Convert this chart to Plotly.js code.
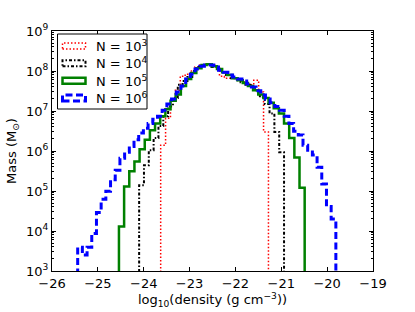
<!DOCTYPE html>
<html><head><meta charset="utf-8">
<script src="https://cdn.plot.ly/plotly-3.0.1.min.js"></script>
<style>html,body{margin:0;padding:0;background:#fff}#chart{width:415px;height:312px}</style>
</head><body><div id="chart"></div>
<script>
// Series labels and styles
const seriesLabels = ['N = 10<sup>3</sup>', 'N = 10<sup>4</sup>', 'N = 10<sup>5</sup>', 'N = 10<sup>6</sup>'];
const seriesColors = ['#ff0000', '#000000', '#008000', '#0000ff'];
const seriesDash = ['1.5px,2px', '3px,2px,1.5px,2px', 'solid', '7px,3.5px'];
const seriesWidth = [1.5, 2, 2.5, 3];

// Histogram ranges (log10 density) and per-bin masses (Msun)
const rangeN3 = [-23.63, -21.28];
const massN3 = [1.4e6, 6.6e6, 1.9e7, 3.3e7, 7.4e7, 8.3e7, 1.0e8, 1.26e8, 1.41e8, 1.48e8, 1.41e8, 1.26e8,
  7.4e7, 6.6e7, 6.6e7, 6.6e7, 5.9e7, 5.2e7, 4.5e7, 5.9e7, 3.0e7, 3.0e6];

const rangeN4 = [-24.10, -20.94];
const massN4 = [1.4e5, 4.4e5, 1.05e6, 2.1e6, 4.2e6, 7.4e6, 1.3e7, 2.1e7, 4.5e7, 5.6e7, 7.1e7, 1.0e8,
  1.26e8, 1.41e8, 1.41e8, 1.26e8, 1.12e8, 9.3e7, 7.9e7, 6.6e7, 5.9e7, 5.2e7, 4.5e7, 4.2e7, 3.3e7,
  2.2e7, 1.5e7, 8.7e6, 3.0e6, 9.3e5];

const rangeN5 = [-24.54, -20.49];
const massN5 = [1.3e4, 1.3e5, 3.1e5, 5.5e5, 1.1e6, 1.9e6, 3.3e6, 4.9e6, 7.4e6, 1.1e7, 1.8e7, 2.6e7,
  4.2e7, 6.3e7, 8.9e7, 1.17e8, 1.41e8, 1.48e8, 1.32e8, 1.12e8, 9.3e7, 7.9e7, 6.6e7, 5.9e7, 5.0e7,
  4.2e7, 3.3e7, 2.6e7, 2.1e7, 1.6e7, 1.17e7, 8.7e6, 4.9e6, 2.1e6, 6.9e5, 1.2e5];

const rangeN6 = [-25.44, -19.81];
const massN6 = [3.9e3, 2.5e3, 3.9e3, 8.7e3, 2.9e4, 6.2e4, 9.8e4, 1.9e5, 3.3e5, 6.6e5, 9.3e5, 1.3e6,
  1.9e6, 2.8e6, 3.7e6, 4.9e6, 6.2e6, 7.4e6, 1.05e7, 1.5e7, 2.0e7, 3.0e7, 4.2e7, 6.3e7, 8.3e7, 1.12e8,
  1.32e8, 1.41e8, 1.41e8, 1.26e8, 1.05e8, 9.3e7, 7.9e7, 7.1e7, 6.3e7, 5.6e7, 4.7e7, 4.0e7, 3.2e7,
  2.5e7, 2.0e7, 1.6e7, 1.3e7, 1.05e7, 7.4e6, 4.9e6, 3.1e6, 2.5e6, 1.4e6, 1.05e6, 7.9e5, 3.9e5,
  1.5e5, 4.1e4, 2.0e4];

// Axis ticks
const xTickVals = [-26, -25, -24, -23, -22, -21, -20, -19];
const yTickVals = [1e3, 1e4, 1e5, 1e6, 1e7, 1e8, 1e9];
const yTickText = ['10<sup>3</sup>', '10<sup>4</sup>', '10<sup>5</sup>', '10<sup>6</sup>', '10<sup>7</sup>', '10<sup>8</sup>', '10<sup>9</sup>'];

const ranges = [rangeN3, rangeN4, rangeN5, rangeN6];
const masses = [massN3, massN4, massN5, massN6];

// step outline like matplotlib histtype='step'
function stepXY(range, mass) {
  const n = mass.length;
  const w = (range[1] - range[0]) / n;
  const floor = 1; // below the axis, clipped away
  const x = [range[0]], y = [floor];
  for (let i = 0; i < n; i++) { x.push(range[0] + i * w); y.push(mass[i]); }
  x.push(range[1]); y.push(floor);
  return {x, y};
}

const traces = ranges.map((r, k) => {
  const s = stepXY(r, masses[k]);
  return {
    type: 'scatter', mode: 'lines', x: s.x, y: s.y, name: seriesLabels[k],
    line: {shape: 'hv', color: seriesColors[k], dash: seriesDash[k], width: seriesWidth[k]},
    showlegend: false, hoverinfo: 'skip'
  };
});

const minorVals = [];
for (let e = 3; e < 9; e++) for (let m = 2; m <= 9; m++) minorVals.push(m * Math.pow(10, e));

// custom legend (matplotlib patch style rectangles)
const L = 52, T = 31, W = 321, H = 240;
const px = v => (v - L) / W, py = v => (T + H - v) / H;
const legendRows = [46, 63.3, 80.7, 98.1];
const shapes = [{
  type: 'rect', xref: 'paper', yref: 'paper', x0: px(57.5), x1: px(147), y0: py(109), y1: py(34),
  line: {color: '#000', width: 1}, fillcolor: '#fff', layer: 'above'
}];
const annotations = [];
legendRows.forEach((r, k) => {
  shapes.push({type: 'rect', xref: 'paper', yref: 'paper', x0: px(62.5), x1: px(85.5), y0: py(r + 3), y1: py(r - 3),
    line: {color: seriesColors[k], dash: seriesDash[k], width: seriesWidth[k]}, fillcolor: 'rgba(0,0,0,0)', layer: 'above'});
  annotations.push({xref: 'paper', yref: 'paper', x: px(94), y: py(r), xanchor: 'left', yanchor: 'middle',
    text: seriesLabels[k], showarrow: false, font: {size: 13, color: '#000'}});
});

const layout = {
  width: 415, height: 312,
  margin: {l: 52, r: 42, t: 31, b: 41},
  paper_bgcolor: '#fff', plot_bgcolor: '#fff',
  font: {family: 'DejaVu Sans, sans-serif', size: 13, color: '#000'},
  showlegend: false,
  xaxis: {
    range: [-26, -19], tickmode: 'array', tickvals: xTickVals,
    ticks: 'inside', ticklen: 4, tickcolor: '#000', mirror: 'allticks',
    showline: true, linecolor: '#000', linewidth: 1, showgrid: false, zeroline: false,
    tickfont: {size: 13},
    title: {text: 'log<sub>10</sub>(density (g cm<sup>−3</sup>))', font: {size: 13}, standoff: 3}
  },
  yaxis: {
    type: 'log', range: [3, 9], tickmode: 'array', tickvals: yTickVals, ticktext: yTickText,
    ticks: 'inside', ticklen: 4, tickcolor: '#000', mirror: 'allticks',
    minor: {tickmode: 'array', tickvals: minorVals, ticks: 'inside', ticklen: 2, tickcolor: '#000'},
    showline: true, linecolor: '#000', linewidth: 1, showgrid: false, zeroline: false,
    tickfont: {size: 13},
    title: {text: 'Mass (M<sub>⊙</sub>)', font: {size: 13}, standoff: 6}
  },
  shapes, annotations
};

Plotly.newPlot('chart', traces, layout, {displayModeBar: false, staticPlot: true});
</script></body></html>
